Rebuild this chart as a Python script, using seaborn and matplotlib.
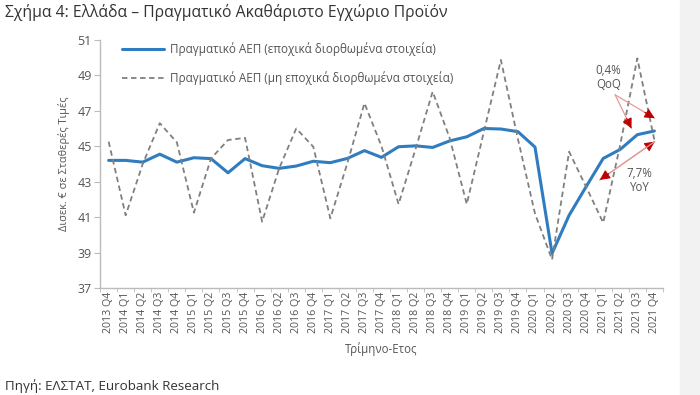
import matplotlib
matplotlib.use('Agg')
import matplotlib.pyplot as plt
import pandas as pd
import seaborn as sns

# quarters 2013 Q4 .. 2021 Q4
quarters = ['2013 Q4'] + [f'{y} Q{q}' for y in range(2014, 2022) for q in range(1, 5)]

# real GDP, seasonally adjusted (bn EUR, constant prices)
gdp_sa = [44.2, 44.2, 44.1, 44.55, 44.1, 44.35, 44.3, 43.5, 44.3, 43.9, 43.75, 43.88, 44.15,
          44.07, 44.31, 44.75, 44.37, 44.97, 45.02, 44.93, 45.3, 45.53, 46.0, 45.97, 45.82,
          44.95, 38.95, 41.1, 42.72, 44.31, 44.82, 45.65, 45.86]

# real GDP, not seasonally adjusted
gdp_nsa = [45.26, 41.1, 44.0, 46.3, 45.22, 41.25, 44.3, 45.35, 45.47, 40.74, 43.75, 46.0, 44.97,
           40.93, 44.05, 47.43, 45.0, 41.73, 44.85, 48.08, 45.45, 41.73, 45.8, 49.87, 45.4,
           41.2, 38.6, 44.69, 42.7, 40.68, 45.1, 49.96, 45.35]

y_ticks = [37, 39, 41, 43, 45, 47, 49, 51]

df = pd.DataFrame({'Quarter': quarters, 'SA': gdp_sa, 'NSA': gdp_nsa})

sns.set_style('white')
plt.rcParams['font.family'] = ['Open Sans', 'DejaVu Sans']

fig = plt.figure(figsize=[7, 3.95], dpi=100)
ax = fig.add_axes([0.143, 0.271, 0.804, 0.628])

sns.lineplot(data=df, x='Quarter', y='SA', sort=False, color='#2f7dc0', linewidth=2.2,
             label='Πραγματικό ΑΕΠ (εποχικά διορθωμένα στοιχεία)', ax=ax)
sns.lineplot(data=df, x='Quarter', y='NSA', sort=False, color='#808080', linewidth=1.3,
             linestyle=(0, (3, 2)),
             label='Πραγματικό ΑΕΠ (μη εποχικά διορθωμένα στοιχεία)', ax=ax)

# axes limits / ticks
ax.set_xlim(-0.5, len(quarters) - 0.5)
ax.set_ylim(37, 51)
ax.set_yticks(y_ticks)
ax.set_xticks(range(len(quarters)))
ax.set_xticklabels(quarters, rotation=90, fontsize=7.7, color='#555555')
ax.set_xticks([i - 0.5 for i in range(len(quarters) + 1)], minor=True)
ax.tick_params(axis='x', which='major', length=0, pad=3)
ax.tick_params(axis='x', which='minor', length=3, color='#bbbbbb', direction='out')
ax.tick_params(axis='y', length=4, color='#bbbbbb', labelsize=9, labelcolor='#555555', pad=2)
ax.tick_params(axis='x', which='both', bottom=True)
ax.tick_params(axis='y', left=True)

for side in ['top', 'right']:
    ax.spines[side].set_visible(False)
for side in ['left', 'bottom']:
    ax.spines[side].set_color('#bbbbbb')
    ax.spines[side].set_linewidth(1.0)

ax.set_xlabel('Τρίμηνο-Ετος', fontsize=8.3, color='#555555', labelpad=6)
ax.set_ylabel('Δισεκ. € σε Σταθερές Τιμές', fontsize=7.8, color='#555555', labelpad=5)

leg = ax.legend(loc='upper left', bbox_to_anchor=(0.02, 1.035), frameon=False, fontsize=8.5,
                labelspacing=1.3, handlelength=3.6, handletextpad=0.5)
for t in leg.get_texts():
    t.set_color('#555555')


# annotations: pink shafts with dark red heads
def arrow(ax, tail, head, frac=0.12):
    ax.annotate('', xy=head, xytext=tail,
                arrowprops=dict(arrowstyle='-', color='#e39a9a', lw=0.9, shrinkA=0, shrinkB=0))
    back = (head[0] - (head[0] - tail[0]) * frac, head[1] - (head[1] - tail[1]) * frac)
    ax.annotate('', xy=head, xytext=back,
                arrowprops=dict(arrowstyle='-|>', color='#c00000', lw=0.8, mutation_scale=15,
                                shrinkA=0, shrinkB=0))


ax.text(29.3, 48.9, '0,4%\nQoQ', ha='center', va='center', fontsize=8.3, color='#555555',
        linespacing=1.1)
arrow(ax, (29.7, 47.9), (30.66, 46.0), frac=0.3)
arrow(ax, (29.7, 47.9), (32.02, 46.58), frac=0.25)

ax.text(31.15, 43.05, '7,7%\nYoY', ha='center', va='center', fontsize=8.3, color='#555555',
        linespacing=1.1)
arrow(ax, (28.8, 43.1), (32.02, 45.26), frac=0.16)
arrow(ax, (32.02, 45.26), (28.8, 43.1), frac=0.16)

# title and source
fig.text(0.007, 0.968, 'Σχήμα 4: Ελλάδα – Πραγματικό Ακαθάριστο Εγχώριο Προϊόν',
         fontsize=11.3, color='#333333', va='center')
fig.text(0.007, 0.023, 'Πηγή: ΕΛΣΤΑΤ, Eurobank Research', fontsize=9.6, color='#333333',
         va='center')

# light grey slide margin at the right
fig.patches.append(plt.Rectangle((0.972, 0), 0.028, 1, transform=fig.transFigure,
                                 color='#f2f2f2', zorder=-1))

fig.savefig('out.png', dpi=100)
